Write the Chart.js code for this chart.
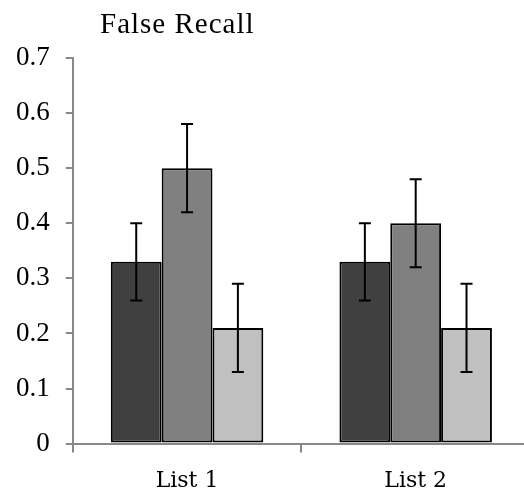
<!DOCTYPE html>
<html>
<head>
<meta charset="utf-8">
<script src="https://cdn.jsdelivr.net/npm/chart.js@4.4.1/dist/chart.umd.min.js"></script>
<style>
  body { margin: 0; background: #fff; overflow: hidden; }
  #wrap { width: 524px; height: 494px; overflow: hidden; }
</style>
</head>
<body>
<div id="wrap"><canvas id="chartRecall" width="530" height="494"></canvas></div>
<script>
// Dados do gráfico
var categorias = ['List 1', 'List 2'];
var valoresA = [0.33, 0.33];
var valoresB = [0.50, 0.40];
var valoresC = [0.21, 0.21];
var errosA = [0.07, 0.07];
var errosB = [0.08, 0.08];
var errosC = [0.08, 0.08];
var ticksY = [0, 0.1, 0.2, 0.3, 0.4, 0.5, 0.6, 0.7];

// Barras de erro desenhadas pela escala do próprio gráfico
var pluginErros = {
    id: 'barrasErro',
    afterDatasetsDraw: function (chart) {
        var ctx = chart.ctx;
        var escalaY = chart.scales.y;
        ctx.save();
        ctx.strokeStyle = '#000';
        ctx.lineWidth = 2;
        chart.data.datasets.forEach(function (ds, i) {
            var meta = chart.getDatasetMeta(i);
            meta.data.forEach(function (barra, j) {
                var v = ds.data[j];
                var e = ds.erros[j];
                var x = barra.x;
                var yAlto = escalaY.getPixelForValue(v + e);
                var yBaixo = escalaY.getPixelForValue(v - e);
                ctx.beginPath();
                ctx.moveTo(x, yAlto);
                ctx.lineTo(x, yBaixo);
                ctx.moveTo(x - 6, yAlto);
                ctx.lineTo(x + 6, yAlto);
                ctx.moveTo(x - 6, yBaixo);
                ctx.lineTo(x + 6, yBaixo);
                ctx.stroke();
            });
        });
        ctx.restore();
    }
};

// Título desenhado à mão para ficar na posição do original
var pluginTitulo = {
    id: 'tituloManual',
    afterDraw: function (chart) {
        var ctx = chart.ctx;
        ctx.save();
        ctx.font = '29px "Liberation Serif"';
        if ('letterSpacing' in ctx) ctx.letterSpacing = '1px';
        ctx.fillStyle = '#000';
        ctx.textBaseline = 'alphabetic';
        ctx.fillText('False Recall', 100, 33);
        ctx.restore();
    }
};

var ctxRecall = document.getElementById('chartRecall').getContext('2d');
var chartRecall = new Chart(ctxRecall, {
    type: 'bar',
    data: {
        labels: categorias,
        datasets: [
            { data: valoresA, erros: errosA, backgroundColor: '#404040' },
            { data: valoresB, erros: errosB, backgroundColor: '#808080' },
            { data: valoresC, erros: errosC, backgroundColor: '#c0c0c0' }
        ]
    },
    options: {
        responsive: false,
        animation: false,
        layout: { padding: { top: 58, right: 0, left: 0, bottom: -15 } },
        datasets: {
            bar: {
                borderColor: '#000',
                borderWidth: 2,
                borderSkipped: false,
                categoryPercentage: 0.667,
                barPercentage: 1
            }
        },
        plugins: {
            legend: { display: false },
            tooltip: { enabled: false }
        },
        scales: {
            x: {
                grid: {
                    offset: true,
                    drawOnChartArea: false,
                    tickLength: 9,
                    color: '#888',
                    lineWidth: 2
                },
                border: { color: '#888', width: 2 },
                ticks: {
                    color: '#000',
                    font: { family: 'DejaVu Serif', size: 22 },
                    padding: 15
                }
            },
            y: {
                min: 0,
                max: 0.7,
                afterBuildTicks: function (escala) {
                    escala.ticks = ticksY.map(function (v) { return { value: v }; });
                },
                grid: {
                    drawOnChartArea: false,
                    tickLength: 7,
                    color: '#888',
                    lineWidth: 2
                },
                border: { color: '#888', width: 2 },
                ticks: {
                    color: '#000',
                    font: { family: 'Liberation Serif', size: 27 },
                    padding: 16,
                    callback: function (v) { return String(Math.round(v * 10) / 10); }
                }
            }
        }
    },
    plugins: [pluginErros, pluginTitulo]
});
</script>
</body>
</html>
